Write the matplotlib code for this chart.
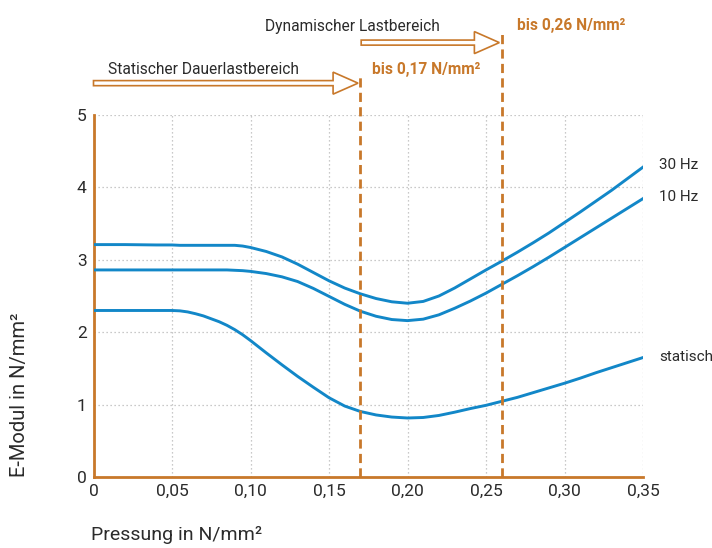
"""E-Modul over Pressung for static and dynamic (10 Hz / 30 Hz) load."""

import matplotlib

matplotlib.use("Agg")
import matplotlib.pyplot as plt
from matplotlib.patches import Polygon

plt.rcParams["font.family"] = ["Roboto", "DejaVu Sans"]

BLUE = "#1287c8"
ORANGE = "#c8782a"
TEXT = "#2b2b2b"

pressure = [0.0, 0.02, 0.04, 0.05, 0.055, 0.06, 0.065, 0.07, 0.08, 0.085, 0.09, 0.095,
            0.10, 0.11, 0.12, 0.13, 0.14, 0.15, 0.16, 0.17, 0.18, 0.19, 0.20, 0.21,
            0.22, 0.23, 0.24, 0.25, 0.26, 0.27, 0.28, 0.29, 0.30, 0.31, 0.32, 0.33,
            0.34, 0.35]
modul_30hz = [3.21, 3.21, 3.205, 3.205, 3.20, 3.20, 3.20, 3.20, 3.20, 3.20, 3.20, 3.19,
              3.17, 3.115, 3.04, 2.94, 2.825, 2.71, 2.61, 2.53, 2.465, 2.42, 2.40, 2.425,
              2.50, 2.61, 2.735, 2.86, 2.98, 3.105, 3.235, 3.37, 3.515, 3.66, 3.81, 3.96,
              4.12, 4.28]
modul_10hz = [2.86, 2.86, 2.86, 2.86, 2.86, 2.86, 2.86, 2.86, 2.86, 2.86, 2.855, 2.85,
              2.84, 2.81, 2.765, 2.70, 2.605, 2.495, 2.385, 2.29, 2.22, 2.175, 2.16, 2.18,
              2.24, 2.33, 2.43, 2.54, 2.66, 2.78, 2.905, 3.035, 3.17, 3.305, 3.44, 3.575,
              3.71, 3.845]
modul_static = [2.30, 2.30, 2.30, 2.30, 2.295, 2.28, 2.255, 2.225, 2.145, 2.095, 2.035, 1.965,
                1.885, 1.715, 1.55, 1.39, 1.24, 1.095, 0.98, 0.905, 0.857, 0.828, 0.815, 0.822,
                0.85, 0.895, 0.945, 0.99, 1.045, 1.10, 1.165, 1.23, 1.295, 1.365, 1.44, 1.51,
                1.58, 1.65]
series_labels = ["30 Hz", "10 Hz", "statisch"]

x_ticks = [0, 0.05, 0.10, 0.15, 0.20, 0.25, 0.30, 0.35]
x_tick_labels = ["0", "0,05", "0,10", "0,15", "0,20", "0,25", "0,30", "0,35"]
y_ticks = [0, 1, 2, 3, 4, 5]
limit_static = 0.17
limit_dynamic = 0.26


def hollow_arrow(ax, x0, x1, y, head_len=0.0159, head_half=0.152, shaft_half=0.035):
    """Outlined block arrow in data coordinates, drawn outside the axes."""
    pts = [
        (x0, y - shaft_half), (x1 - head_len, y - shaft_half), (x1 - head_len, y - head_half),
        (x1, y), (x1 - head_len, y + head_half), (x1 - head_len, y + shaft_half),
        (x0, y + shaft_half),
    ]
    ax.add_patch(Polygon(pts, closed=True, facecolor="white", edgecolor=ORANGE,
                         linewidth=1.2, clip_on=False, zorder=5))


fig = plt.figure(figsize=(7.12, 5.48), dpi=100)
ax = fig.add_axes([93.5 / 712, 1 - 477 / 548, (643 - 93.5) / 712, (477 - 115) / 548])

for values in (modul_30hz, modul_10hz, modul_static):
    ax.plot(pressure, values, color=BLUE, linewidth=2.1, solid_joinstyle="round", zorder=3)

ax.set_xlim(0, 0.35)
ax.set_ylim(0, 5)
ax.set_xticks(x_ticks)
ax.set_xticklabels(x_tick_labels)
ax.set_yticks(y_ticks)
ax.tick_params(length=0, labelsize=12.5, colors=TEXT, pad=5)
ax.grid(True, color="#b8b8b8", linestyle=(0, (1, 2.2)), linewidth=0.9)
ax.set_axisbelow(True)
for side in ("top", "right"):
    ax.spines[side].set_visible(False)
for side in ("left", "bottom"):
    ax.spines[side].set_color(ORANGE)
    ax.spines[side].set_linewidth(2)

# load range markers
ax.plot([limit_static, limit_static], [0, 5.56], color=ORANGE, linewidth=2,
        dashes=(3.3, 1.9), clip_on=False, zorder=4)
ax.plot([limit_dynamic, limit_dynamic], [0, 6.14], color=ORANGE, linewidth=2,
        dashes=(3.3, 1.9), clip_on=False, zorder=4)
hollow_arrow(ax, 0.0, limit_static - 0.0015, 5.44)
hollow_arrow(ax, limit_static + 0.0005, limit_dynamic - 0.0015, 6.0)

ax.text(0.0092, 5.57, "Statischer Dauerlastbereich", fontsize=11.2, color=TEXT, va="baseline")
ax.text(0.109, 6.16, "Dynamischer Lastbereich", fontsize=11.2, color=TEXT, va="baseline")
ax.text(0.1777, 5.56, "bis 0,17 N/mm²", fontsize=11.2, color=ORANGE, weight="bold", va="baseline")
ax.text(0.2695, 6.17, "bis 0,26 N/mm²", fontsize=11.2, color=ORANGE, weight="bold", va="baseline")

for label, y in zip(series_labels, (4.31, 3.87, 1.66)):
    ax.text(0.3601, y, label, fontsize=11, color=TEXT, va="center")

fig.text(91 / 712, 1 - 535 / 548, "Pressung in N/mm²", fontsize=14, color=TEXT, va="center")
fig.text(20 / 712, 1 - 395 / 548, "E-Modul in N/mm²", fontsize=14.5, color=TEXT,
         rotation=90, va="center", ha="center")

fig.savefig("out.png", dpi=100)
